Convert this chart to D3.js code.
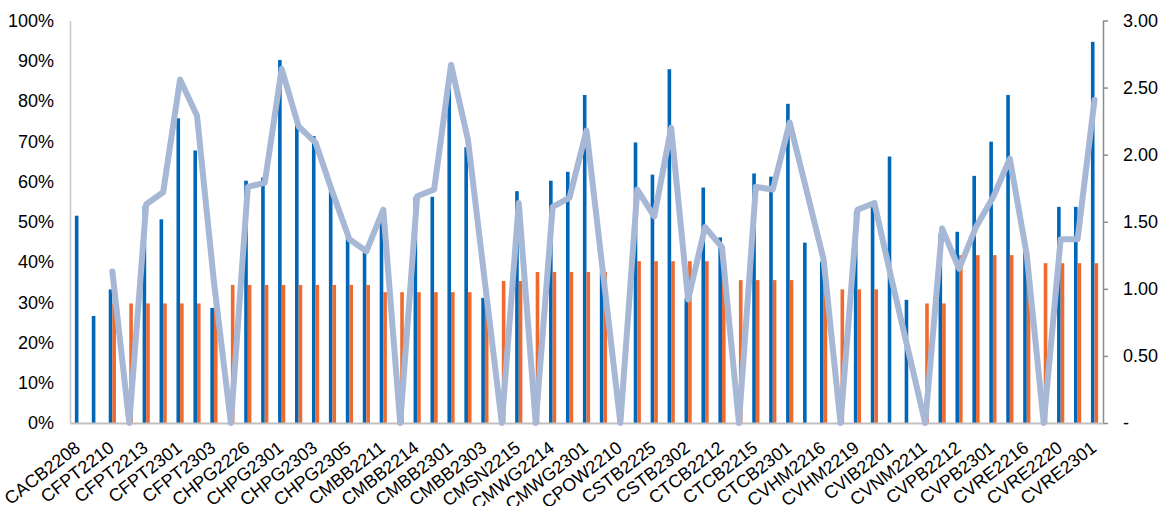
<!DOCTYPE html>
<html>
<head>
<meta charset="utf-8">
<script src="https://cdn.jsdelivr.net/npm/d3@7"></script>
<style>
    body { margin: 0; background: #fff; }
    svg text { font-family: "Liberation Sans", Arial, sans-serif; fill: #000; }
</style>
</head>
<body>
<svg width="1164" height="506"></svg>
<script>
"use strict";

// 61 series codes; only every second one is labelled on the axis
var categories = [
    "CACB2208", "CDPM2209", "CFPT2210", "CFPT2212", "CFPT2213", "CFPT2214",
    "CFPT2301", "CFPT2302", "CFPT2303", "CHPG2225", "CHPG2226", "CHPG2227",
    "CHPG2301", "CHPG2302", "CHPG2303", "CHPG2304", "CHPG2305", "CHPG2306",
    "CMBB2211", "CMBB2213", "CMBB2214", "CMBB2215", "CMBB2301", "CMBB2302",
    "CMBB2303", "CMSN2214", "CMSN2215", "CMWG2213", "CMWG2214", "CMWG2215",
    "CMWG2301", "CMWG2302", "CPOW2210", "CSTB2224", "CSTB2225", "CSTB2301",
    "CSTB2302", "CSTB2303", "CTCB2212", "CTCB2214", "CTCB2215", "CTCB2216",
    "CTCB2301", "CTCB2302", "CVHM2216", "CVHM2218", "CVHM2219", "CVHM2220",
    "CVIB2201", "CVIB2202", "CVNM2211", "CVNM2212", "CVPB2212", "CVPB2213",
    "CVPB2301", "CVPB2302", "CVRE2216", "CVRE2218", "CVRE2220", "CVRE2221",
    "CVRE2301"
];

// blue bars, % (left axis)
var blueValues = [
    51.5, 26.6, 33.2, null, 54, 50.6, 75.7, 67.7, 28.6, null,
    60.2, 61.0, 90.2, 74.5, 71.3, 58.7, 46.5, 42.5, 52.1, null,
    56.2, 56.2, 84, 68.5, 31.1, null, 57.6, null, 60.2, 62.4,
    81.5, 37.6, null, 69.7, 61.7, 87.9, 31, 58.5, 46.1, null,
    62.0, 61.2, 79.3, 44.8, 40.1, null, 52.5, 53.7, 66.2, 30.6,
    null, 47, 47.5, 61.4, 69.9, 81.5, 43.6, null, 53.7, 53.7,
    94.7
];

// orange bars, % (left axis)
var orangeValues = [
    null, null, 29.7, 29.7, 29.7, 29.7, 29.7, 29.7, 29.7, 34.3,
    34.3, 34.3, 34.3, 34.3, 34.3, 34.3, 34.3, 34.3, 32.5, 32.5,
    32.5, 32.5, 32.5, 32.5, 32.5, 35.3, 35.3, 37.5, 37.5, 37.5,
    37.5, 37.5, null, 40.2, 40.2, 40.2, 40.2, 40.2, 35.5, 35.5,
    35.5, 35.5, 35.5, null, 33.2, 33.2, 33.2, 33.2, null, null,
    29.7, 29.7, 41.7, 41.7, 41.7, 41.7, 39.7, 39.7, 39.7, 39.7,
    39.7
];

// line, right axis
var lineValues = [
    null, null, 1.13, 0, 1.63, 1.72, 2.56, 2.29, 1.05, 0,
    1.76, 1.79, 2.64, 2.21, 2.09, 1.72, 1.37, 1.28, 1.59, 0,
    1.69, 1.74, 2.67, 2.11, 1.05, 0, 1.64, 0, 1.61, 1.68,
    2.18, 1.09, 0, 1.74, 1.54, 2.20, 0.92, 1.46, 1.31, 0,
    1.76, 1.74, 2.24, 1.73, 1.22, 0, 1.59, 1.64, 1.08, 0.54,
    0, 1.45, 1.15, 1.46, 1.68, 1.97, 1.25, 0, 1.37, 1.37,
    2.41
];

var leftTicks = [0, 10, 20, 30, 40, 50, 60, 70, 80, 90, 100];
var rightTicks = [0, 0.5, 1, 1.5, 2, 2.5, 3];

var svg = d3.select("svg");
var plotLeft = 70;
var plotRight = 1103;
var plotTop = 20.5;
var plotBottom = 423;

var x = d3.scaleBand()
    .domain(categories)
    .range([plotLeft, plotRight]);
var sub = d3.scaleBand()
    .domain(["blue", "orange"])
    .range([x.bandwidth() / 2 - 3.6, x.bandwidth() / 2 + 3.6]);
var y = d3.scaleLinear().domain([0, 100]).range([plotBottom, plotTop]);
var y2 = d3.scaleLinear().domain([0, 3]).range([plotBottom, plotTop]);

var rows = categories.map(function (c, i) {
    return {
        cat: c,
        blue: blueValues[i],
        orange: orangeValues[i],
        ratio: lineValues[i]
    };
});

// left axis
var leftAxis = svg.append("g")
    .attr("transform", "translate(" + plotLeft + ",0)")
    .call(d3.axisLeft(y)
        .tickValues(leftTicks)
        .tickSize(0)
        .tickPadding(16)
        .tickFormat(function (d) {
            return d + "%";
        }));
leftAxis.select(".domain").attr("stroke", "#c8c8c8").attr("stroke-width", 1.5);
leftAxis.selectAll("text").attr("font-size", 18);

// right axis
var rightAxis = svg.append("g")
    .attr("transform", "translate(" + plotRight + ",0)")
    .call(d3.axisRight(y2)
        .tickValues(rightTicks)
        .tickSize(5)
        .tickSizeOuter(0)
        .tickPadding(15)
        .tickFormat(function (d) {
            return d === 0 ? "-" : d3.format(".2f")(d);
        }));
rightAxis.selectAll(".domain, line").attr("stroke", "#8c8c8c")
    .attr("stroke-width", 1.5);
rightAxis.selectAll("text").attr("font-size", 18);

// bars
var barGroup = svg.append("g");
["blue", "orange"].forEach(function (key) {
    barGroup.selectAll("rect." + key)
        .data(rows.filter(function (d) {
            return d[key] !== null;
        }))
        .join("rect")
        .attr("class", key)
        .attr("x", function (d) {
            return x(d.cat) + sub(key);
        })
        .attr("width", sub.bandwidth())
        .attr("y", function (d) {
            return y(d[key]);
        })
        .attr("height", function (d) {
            return plotBottom - y(d[key]);
        })
        .attr("fill", key === "blue" ? "#0066B8" : "#EE6A2F");
});

// x axis
var xAxis = svg.append("g")
    .attr("transform", "translate(0," + plotBottom + ")")
    .call(d3.axisBottom(x)
        .tickValues(categories.filter(function (ignore, i) {
            return i % 2 === 0;
        }))
        .tickSize(0)
        .tickSizeOuter(0));
xAxis.select(".domain").attr("stroke", "#c0c0c0").attr("stroke-width", 2);
xAxis.selectAll("text")
    .attr("font-size", 18)
    .attr("text-anchor", "end")
    .attr("dy", null)
    .attr("y", null)
    .attr("transform", "translate(3,27) rotate(-38)");

// ratio line
var line = d3.line()
    .defined(function (d) {
        return d.ratio !== null;
    })
    .x(function (d) {
        return x(d.cat) + x.bandwidth() / 2;
    })
    .y(function (d) {
        return y2(d.ratio);
    });

svg.append("path")
    .datum(rows)
    .attr("d", line)
    .attr("fill", "none")
    .attr("stroke", "#A6B8D6")
    .attr("stroke-width", 6)
    .attr("stroke-linejoin", "round")
    .attr("stroke-linecap", "round");
</script>
</body>
</html>
